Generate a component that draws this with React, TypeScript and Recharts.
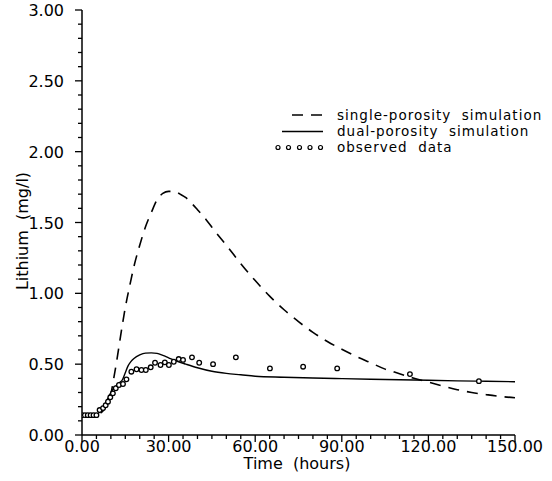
import React from 'react';
import { ComposedChart, Line, Scatter, XAxis, YAxis } from 'recharts';

// single-porosity simulation (dashed)
const singleTime = [0, 2, 4, 6, 8, 9, 10, 11, 12, 13, 14, 15, 16.5, 18, 20, 22, 24, 26, 28, 30, 32, 34, 36, 38, 40, 43, 46, 50, 55, 60, 65, 70, 75, 80, 85, 90, 95, 100, 105, 110, 115, 120, 125, 130, 135, 140, 145, 150];
const singleLithium = [0.14, 0.14, 0.14, 0.15, 0.19, 0.23, 0.29, 0.4, 0.52, 0.65, 0.78, 0.9, 1.05, 1.19, 1.34, 1.47, 1.57, 1.66, 1.705, 1.72, 1.72, 1.7, 1.675, 1.635, 1.59, 1.52, 1.44, 1.34, 1.21, 1.09, 0.98, 0.884, 0.8, 0.725, 0.66, 0.605, 0.555, 0.51, 0.465, 0.433, 0.4, 0.373, 0.345, 0.32, 0.3, 0.285, 0.272, 0.263];

// dual-porosity simulation (solid)
const dualTime = [0, 5, 6, 7, 8, 9, 10, 11, 12, 13, 14, 15, 16, 17, 18, 20, 22, 24, 26, 28, 30, 33, 36, 40, 45, 50, 55, 60, 70, 80, 90, 100, 110, 120, 130, 140, 150];
const dualLithium = [0.14, 0.14, 0.16, 0.19, 0.22, 0.26, 0.3, 0.33, 0.35, 0.37, 0.39, 0.44, 0.49, 0.52, 0.54, 0.565, 0.578, 0.58, 0.576, 0.562, 0.545, 0.52, 0.5, 0.475, 0.45, 0.435, 0.425, 0.415, 0.408, 0.402, 0.398, 0.394, 0.39, 0.386, 0.382, 0.379, 0.376];

// observed data (circles)
const obsTime = [0, 1, 2, 3, 4, 5, 6.1, 7.3, 8.2, 9.0, 9.8, 10.7, 11.7, 12.8, 14.2, 15.4, 17.1, 18.9, 20.6, 22.1, 23.8, 25.3, 27.2, 28.7, 30.1, 31.8, 33.5, 35.0, 38.1, 40.6, 45.4, 53.3, 65.1, 76.6, 88.4, 113.6, 137.5];
const obsLithium = [0.14, 0.14, 0.14, 0.14, 0.14, 0.14, 0.176, 0.19, 0.21, 0.235, 0.266, 0.294, 0.33, 0.353, 0.36, 0.393, 0.447, 0.464, 0.459, 0.459, 0.478, 0.51, 0.494, 0.513, 0.494, 0.517, 0.536, 0.53, 0.548, 0.51, 0.5, 0.548, 0.47, 0.482, 0.47, 0.43, 0.38];

const xMajor = [0, 30, 60, 90, 120, 150];
const xTicks = [0, 5, 10, 15, 20, 25, 30, 35, 40, 45, 50, 55, 60, 65, 70, 75, 80, 85, 90, 95, 100, 105, 110, 115, 120, 125, 130, 135, 140, 145, 150];
const yMajor = [0, 0.5, 1, 1.5, 2, 2.5, 3];
const yTicks = [0, 0.1, 0.2, 0.3, 0.4, 0.5, 0.6, 0.7, 0.8, 0.9, 1, 1.1, 1.2, 1.3, 1.4, 1.5, 1.6, 1.7, 1.8, 1.9, 2, 2.1, 2.2, 2.3, 2.4, 2.5, 2.6, 2.7, 2.8, 2.9, 3];

const legendLabels = ['single-porosity  simulation', 'dual-porosity  simulation', 'observed  data'];

const zip = (xs: number[], ys: number[]) => xs.map((x, i) => ({ x, y: ys[i] }));
const single = zip(singleTime, singleLithium);
const dual = zip(dualTime, dualLithium);
const observed = zip(obsTime, obsLithium);

const FONT = '"DejaVu Sans", sans-serif';
const isMajor = (list: number[], v: number) => list.some((m) => Math.abs(m - v) < 1e-6);

const XTick = (props: any) => {
  const { x, y, payload } = props;
  const major = isMajor(xMajor, payload.value);
  return (
    <g>
      <line x1={x} x2={x} y1={y} y2={y + (major ? 7 : 4)} stroke="#000" strokeWidth={1.3} />
      {major && (
        <text x={x} y={y + 17} textAnchor="middle" fontSize={16} fontFamily={FONT} fill="#000">
          {payload.value.toFixed(2)}
        </text>
      )}
    </g>
  );
};

const YTick = (props: any) => {
  const { x, y, payload } = props;
  const major = isMajor(yMajor, payload.value);
  return (
    <g>
      <line x1={x} x2={x - (major ? 7 : 4)} y1={y} y2={y} stroke="#000" strokeWidth={1.3} />
      {major && (
        <text x={x - 18} y={y + 6} textAnchor="end" fontSize={16} fontFamily={FONT} fill="#000">
          {payload.value.toFixed(2)}
        </text>
      )}
    </g>
  );
};

const Dot = (props: any) => {
  const { cx, cy } = props;
  return <circle cx={cx} cy={cy} r={2.3} fill="#fff" stroke="#000" strokeWidth={1.3} />;
};

const preText = { whiteSpace: 'pre' as const };

const Legend = () => (
  <svg width={552} height={481} style={{ position: 'absolute', left: 0, top: 0, pointerEvents: 'none' }}>
    <line x1={292} x2={323} y1={115} y2={115} stroke="#000" strokeWidth={1.6} strokeDasharray="11 8" />
    <line x1={282} x2={323} y1={131.5} y2={131.5} stroke="#000" strokeWidth={1.4} />
    {[278, 288.5, 299.5, 310, 320.5].map((cx) => (
      <circle key={cx} cx={cx} cy={147.5} r={2} fill="#fff" stroke="#000" strokeWidth={1.2} />
    ))}
    {legendLabels.map((label, i) => (
      <text
        key={label}
        x={337}
        y={119.5 + i * 16}
        fontFamily={FONT}
        fontSize={13.5}
        letterSpacing={1}
        fill="#000"
        xmlSpace="preserve"
        style={preText}
      >
        {label}
      </text>
    ))}
  </svg>
);

export default function App() {
  return (
    <div style={{ position: 'absolute', left: 0, top: 0, width: 552, height: 481, background: '#fff' }}>
      <ComposedChart width={552} height={481} margin={{ top: 10, right: 37, bottom: 0, left: 0 }}>
        <XAxis
          type="number"
          dataKey="x"
          domain={[0, 150]}
          ticks={xTicks}
          interval={0}
          tickSize={0}
          tickMargin={0}
          tick={<XTick />}
          tickLine={false}
          axisLine={{ stroke: '#000', strokeWidth: 1.5 }}
          height={46}
          allowDataOverflow
        />
        <YAxis
          type="number"
          dataKey="y"
          domain={[0, 3]}
          ticks={yTicks}
          interval={0}
          tickSize={0}
          tickMargin={0}
          tick={<YTick />}
          tickLine={false}
          axisLine={{ stroke: '#000', strokeWidth: 1.5 }}
          width={82}
          allowDataOverflow
        />
        <Line
          data={single}
          dataKey="y"
          type="monotone"
          stroke="#000"
          strokeWidth={1.6}
          strokeDasharray="11 8"
          dot={false}
          isAnimationActive={false}
        />
        <Line
          data={dual}
          dataKey="y"
          type="monotone"
          stroke="#000"
          strokeWidth={1.4}
          dot={false}
          isAnimationActive={false}
        />
        <Scatter data={observed} dataKey="y" shape={<Dot />} isAnimationActive={false} />
      </ComposedChart>
      <svg width={552} height={481} style={{ position: 'absolute', left: 0, top: 0, pointerEvents: 'none' }}>
        <text x={297} y={469} textAnchor="middle" fontFamily={FONT} fontSize={16} fill="#000" xmlSpace="preserve" style={preText}>
          {'Time  (hours)'}
        </text>
        <text
          x={28}
          y={231}
          textAnchor="middle"
          fontFamily={FONT}
          fontSize={16}
          fill="#000"
          transform="rotate(-90, 28, 231)"
          xmlSpace="preserve"
          style={preText}
        >
          {'Lithium  (mg/l)'}
        </text>
      </svg>
      <Legend />
    </div>
  );
}
